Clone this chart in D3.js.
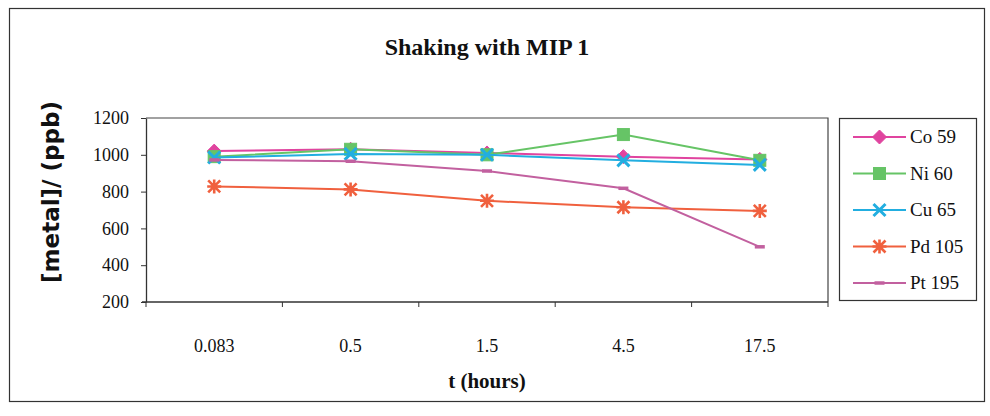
<!DOCTYPE html>
<html>
<head>
<meta charset="utf-8">
<script src="https://cdn.jsdelivr.net/npm/d3@7"></script>
<style>
  html, body { margin: 0; padding: 0; background: #fff; }
  svg { display: block; }
  .serif { font-family: "Liberation Serif", "Times New Roman", "DejaVu Serif", serif; }
  .sans { font-family: "DejaVu Sans", "Liberation Sans", Arial, sans-serif; }
</style>
</head>
<body>
<svg id="chart" width="990" height="416"></svg>
<script>
// Sampling times (hours) shown as evenly spaced categories
const times = ["0.083", "0.5", "1.5", "4.5", "17.5"];

// Metal concentrations (ppb) per isotope
const co59  = [1020, 1030, 1010, 990, 975];
const ni60  = [990, 1030, 1000, 1110, 970];
const cu65  = [985, 1005, 1000, 970, 945];
const pd105 = [828, 812, 750, 715, 695];
const pt195 = [972, 965, 912, 818, 500];

const seriesNames = ["Co 59", "Ni 60", "Cu 65", "Pd 105", "Pt 195"];
const seriesValues = [co59, ni60, cu65, pd105, pt195];
const seriesColors = ["#e0449f", "#66c466", "#22aee0", "#f0603e", "#c2609f"];
const seriesMarkers = ["diamond", "square", "cross", "star", "dash"];

const yTicks = [200, 400, 600, 800, 1000, 1200];

const svg = d3.select("#chart");

// Outer frame
svg.append("rect")
  .attr("x", 9.5).attr("y", 8.5)
  .attr("width", 975).attr("height", 393)
  .attr("fill", "#fff").attr("stroke", "#333").attr("stroke-width", 1.2);

const plot = { left: 146, right: 828, top: 118, bottom: 302 };

const x = d3.scaleBand().domain(times).range([plot.left, plot.right]);
const y = d3.scaleLinear().domain([200, 1200]).range([plot.bottom, plot.top]);

// Plot area border (top and right edges)
svg.append("path")
  .attr("d", `M${plot.left},${plot.top}H${plot.right}V${plot.bottom}`)
  .attr("fill", "none").attr("stroke", "#444").attr("stroke-width", 1.2);

// Y axis
const yAxis = svg.append("g")
  .attr("transform", `translate(${plot.left},0)`)
  .call(d3.axisLeft(y).tickValues(yTicks).tickFormat(d3.format("d"))
    .tickSize(5).tickPadding(12).tickSizeOuter(0));
yAxis.attr("font-family", null).attr("font-size", null);
yAxis.select(".domain").attr("stroke", "#333").attr("stroke-width", 1.3);
yAxis.selectAll(".tick line").attr("stroke", "#333");
yAxis.selectAll("text")
  .attr("class", "serif")
  .style("font-size", "18px").attr("fill", "#111");

// X axis: ticks sit on category boundaries
const boundaries = times.map(t => x(t)).concat([plot.right]);
svg.append("line")
  .attr("x1", plot.left - 4).attr("x2", plot.right)
  .attr("y1", plot.bottom).attr("y2", plot.bottom)
  .attr("stroke", "#333").attr("stroke-width", 1.3);
svg.selectAll(".xtick").data(boundaries).enter().append("line")
  .attr("x1", d => d).attr("x2", d => d)
  .attr("y1", plot.bottom).attr("y2", plot.bottom + 5)
  .attr("stroke", "#333");
svg.selectAll(".xlabel").data(times).enter().append("text")
  .attr("class", "serif")
  .attr("x", d => x(d) + x.bandwidth() / 2)
  .attr("y", plot.bottom + 50)
  .attr("text-anchor", "middle")
  .style("font-size", "18px").attr("fill", "#111")
  .text(d => d);

// Titles
svg.append("text")
  .attr("class", "serif")
  .attr("x", 487).attr("y", 55)
  .attr("text-anchor", "middle")
  .style("font-weight", "bold").style("font-size", "24px").attr("fill", "#111")
  .text("Shaking with MIP 1");

svg.append("text")
  .attr("class", "serif")
  .attr("x", 487).attr("y", 388)
  .attr("text-anchor", "middle")
  .style("font-weight", "bold").style("font-size", "21px").attr("fill", "#111")
  .text("t (hours)");

svg.append("text")
  .attr("class", "sans")
  .attr("transform", "translate(59,192) rotate(-90)")
  .attr("text-anchor", "middle")
  .style("font-weight", "bold").style("font-size", "23px").attr("fill", "#111")
  .text("[metal]/ (ppb)");

// Marker drawing
function drawMarker(g, type, cx, cy, color) {
  if (type === "diamond") {
    g.append("path").attr("d", `M${cx},${cy - 7}L${cx + 7},${cy}L${cx},${cy + 7}L${cx - 7},${cy}Z`)
      .attr("fill", color).attr("stroke", color);
  } else if (type === "square") {
    g.append("rect").attr("x", cx - 6).attr("y", cy - 6).attr("width", 12).attr("height", 12)
      .attr("fill", color).attr("stroke", color);
  } else if (type === "cross") {
    g.append("path").attr("d", `M${cx - 6},${cy - 6}L${cx + 6},${cy + 6}M${cx - 6},${cy + 6}L${cx + 6},${cy - 6}`)
      .attr("stroke", color).attr("stroke-width", 3).attr("fill", "none");
  } else if (type === "star") {
    g.append("path").attr("d",
      `M${cx - 6},${cy - 6}L${cx + 6},${cy + 6}M${cx - 6},${cy + 6}L${cx + 6},${cy - 6}` +
      `M${cx},${cy - 7}V${cy + 7}M${cx - 7},${cy}H${cx + 7}`)
      .attr("stroke", color).attr("stroke-width", 2.6).attr("fill", "none");
  } else if (type === "dash") {
    g.append("path").attr("d", `M${cx - 5},${cy}H${cx + 5}`)
      .attr("stroke", color).attr("stroke-width", 3.5).attr("fill", "none");
  }
}

// Series lines and markers
const line = d3.line()
  .x((d, i) => x(times[i]) + x.bandwidth() / 2)
  .y(d => y(d));

seriesValues.forEach((vals, s) => {
  const g = svg.append("g");
  g.append("path").datum(vals)
    .attr("d", line)
    .attr("fill", "none")
    .attr("stroke", seriesColors[s])
    .attr("stroke-width", 2);
  vals.forEach((v, i) => {
    drawMarker(g, seriesMarkers[s], x(times[i]) + x.bandwidth() / 2, y(v), seriesColors[s]);
  });
});

// Legend
const legend = svg.append("g");
legend.append("rect")
  .attr("x", 839.5).attr("y", 118.5).attr("width", 137).attr("height", 182)
  .attr("fill", "#fff").attr("stroke", "#333").attr("stroke-width", 1.2);
seriesNames.forEach((name, s) => {
  const ly = 137 + s * 36.5;
  legend.append("line")
    .attr("x1", 853).attr("x2", 906).attr("y1", ly).attr("y2", ly)
    .attr("stroke", seriesColors[s]).attr("stroke-width", 2);
  drawMarker(legend, seriesMarkers[s], 879.5, ly, seriesColors[s]);
  legend.append("text")
    .attr("class", "serif")
    .attr("x", 910).attr("y", ly + 6)
    .style("font-size", "19px").attr("fill", "#111")
    .text(name);
});
</script>
</body>
</html>
